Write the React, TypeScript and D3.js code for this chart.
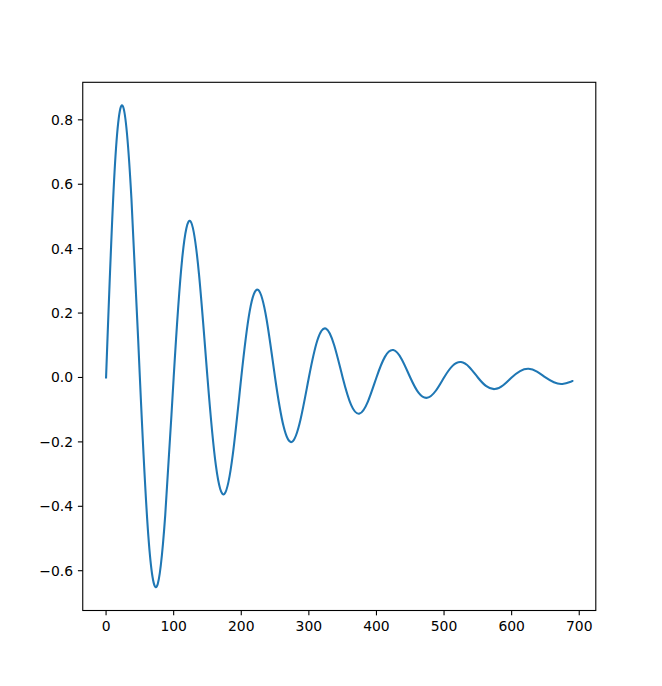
import React from "react";
import * as d3 from "d3";

const xs: number[] = [
  0, 12.5, 25, 37.5, 50, 62.5, 75, 87.5, 100, 112.5, 125, 137.5, 150, 162.5, 175, 187.5,
  200, 212.5, 225, 237.5, 250, 262.5, 275, 287.5, 300, 312.5, 325, 337.5, 350, 362.5, 375, 387.5,
  400, 412.5, 425, 437.5, 450, 462.5, 475, 487.5, 500, 512.5, 525, 537.5, 550, 562.5, 575, 587.5,
  600, 612.5, 625, 637.5, 650, 662.5, 675, 687.5, 690,
];
const ys: number[] = [
  0, 0.637, 0.842, 0.556, 0, -0.491, -0.649, -0.428, 0, 0.367, 0.485, 0.32, 0, -0.274, -0.362, -0.239,
  0, 0.206, 0.272, 0.18, 0, -0.151, -0.2, -0.132, 0, 0.115, 0.152, 0.1, 0, -0.085, -0.112, -0.074,
  0, 0.064, 0.085, 0.056, 0, -0.048, -0.063, -0.042, 0, 0.036, 0.048, 0.032, 0, -0.027, -0.036, -0.024,
  0, 0.02, 0.027, 0.018, 0, -0.015, -0.02, -0.013, -0.011,
];
const xTicks: number[] = [0, 100, 200, 300, 400, 500, 600, 700];
const yTicks: number[] = [-0.6, -0.4, -0.2, 0.0, 0.2, 0.4, 0.6, 0.8];

const W = 662;
const H = 686;
const left = 82.75;
const right = 595.8;
const top = 82.3;
const bottom = 610.5;

export default function App() {
  const xMin = d3.min(xs)!;
  const xMax = d3.max(xs)!;
  const yMin = d3.min(ys)!;
  const yMax = d3.max(ys)!;
  const xm = (xMax - xMin) * 0.05;
  const ym = (yMax - yMin) * 0.05;
  const x = d3.scaleLinear().domain([xMin - xm, xMax + xm]).range([left, right]);
  const y = d3.scaleLinear().domain([yMin - ym, yMax + ym]).range([bottom, top]);
  const pts: [number, number][] = xs.map((v, i) => [v, ys[i]]);
  const line = d3
    .line<[number, number]>()
    .x((d) => x(d[0]))
    .y((d) => y(d[1]))
    .curve(d3.curveNatural);
  const fmt = (v: number) => {
    const s = d3.format(".1f")(v);
    return s.replace("-", "\u2212");
  };
  const fs = 13.9;
  const tl = 4.86;
  return (
    <svg
      width={W}
      height={H}
      style={{ position: "absolute", left: 0, top: 0, background: "#fff" }}
      fontFamily="DejaVu Sans"
    >
      <rect x={0} y={0} width={W} height={H} fill="#fff" />
      <path d={line(pts)!} fill="none" stroke="#1f77b4" strokeWidth={2.08} strokeLinejoin="round" strokeLinecap="square" />
      <rect x={left} y={top} width={right - left} height={bottom - top} fill="none" stroke="#000" strokeWidth={1.1} />
      {xTicks.map((t) => (
        <g key={"x" + t}>
          <line x1={x(t)} x2={x(t)} y1={bottom} y2={bottom + tl} stroke="#000" strokeWidth={1.1} />
          <text x={x(t)} y={bottom + tl + 4.86} dy="0.76em" textAnchor="middle" fontSize={fs} fill="#000">
            {fmt(t).replace(".0", "")}
          </text>
        </g>
      ))}
      {yTicks.map((t) => (
        <g key={"y" + t}>
          <line x1={left - tl} x2={left} y1={y(t)} y2={y(t)} stroke="#000" strokeWidth={1.1} />
          <text x={left - tl - 4.86} y={y(t)} dy="0.36em" textAnchor="end" fontSize={fs} fill="#000">
            {fmt(t)}
          </text>
        </g>
      ))}
    </svg>
  );
}
